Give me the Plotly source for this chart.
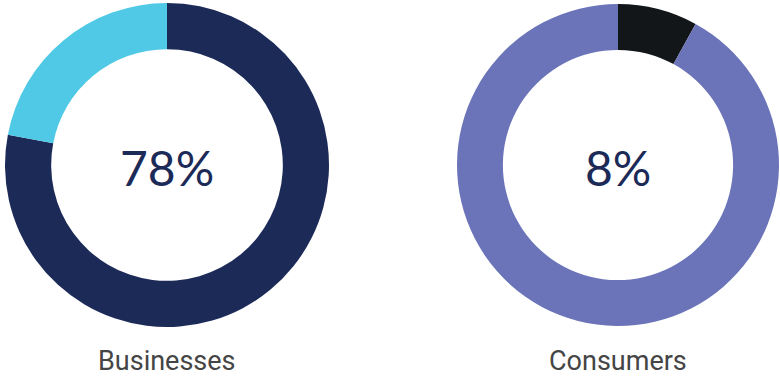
import plotly.graph_objects as go

W, H = 780, 378

# Share of each group, shown as a donut per group
groups = ["Businesses", "Consumers"]
shares = [78, 8]
centre_labels = ["78%", "8%"]

main_colors = ["#1c2a58", "#121619"]
rest_colors = ["#4fc9e5", "#6b74b8"]

# Horizontal pixel extents of each donut
x_extents = [(5, 329), (457, 779)]
y_extent = (3, 327)

fig = go.Figure()
for i, name in enumerate(groups):
    x0, x1 = x_extents[i]
    fig.add_trace(go.Pie(
        values=[shares[i], 100 - shares[i]],
        labels=[name, "Other"],
        marker=dict(colors=[main_colors[i], rest_colors[i]], line=dict(width=0)),
        hole=0.715,
        sort=False,
        direction="clockwise",
        rotation=0,
        textinfo="none",
        hoverinfo="skip",
        showlegend=False,
        domain=dict(x=[x0 / W, x1 / W],
                    y=[1 - y_extent[1] / H, 1 - y_extent[0] / H]),
    ))
    cx = (x0 + x1) / 2 / W
    fig.add_annotation(
        x=cx, y=1 - 167 / H, xref="paper", yref="paper",
        text=centre_labels[i], showarrow=False,
        font=dict(family="Lato", size=48, color="#1c2a58"),
        xanchor="center", yanchor="middle",
    )
    fig.add_annotation(
        x=cx, y=0, xref="paper", yref="paper",
        text=name, showarrow=False,
        font=dict(family="Roboto", size=27, color="#454545"),
        xanchor="center", yanchor="bottom", borderpad=0,
    )

fig.update_layout(
    width=W, height=H,
    margin=dict(l=0, r=0, t=0, b=0),
    paper_bgcolor="white",
    plot_bgcolor="white",
)

fig.write_html("out.html")
